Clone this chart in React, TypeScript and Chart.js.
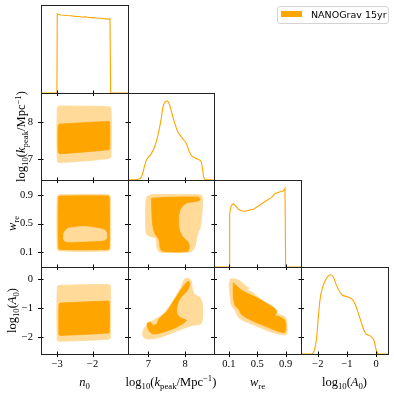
import React, { useEffect, useRef } from "react";
import { Chart, registerables } from "chart.js";

Chart.register(...registerables);

type Pt = [number, number];
type Seg = { t: string; it?: boolean; sub?: boolean; sup?: boolean };

// ---------- data ----------
const SERIES_NAME = "NANOGrav 15yr";

const N0_RANGE: Pt = [-3.46, -1.0];
const KPEAK_RANGE: Pt = [6.44, 8.79];
const WRE_RANGE: Pt = [-0.11, 1.116];
const A0_RANGE: Pt = [-2.58, 0.41];

const N0_TICKS = [-3, -2];
const KPEAK_TICKS = [7, 8];
const WRE_TICKS = [0.1, 0.5, 0.9];
const A0_TICKS = [-2, -1, 0];

const N0_TICK_LABELS = ["−3", "−2"];
const KPEAK_TICK_LABELS = ["7", "8"];
const WRE_TICK_LABELS = ["0.1", "0.5", "0.9"];
const A0_TICK_LABELS = ["−2", "−1", "0"];

// 1D marginal densities (normalised to peak ~1)
const N0_DENS_X = [-3.46, -3.01, -3.0, -2.97, -2.9, -2.8, -2.7, -2.6, -2.5, -2.4, -2.3, -2.2, -2.1, -2.0, -1.9, -1.8, -1.7, -1.6, -1.53, -1.51, -1.49, -1.0];
const N0_DENS_Y = [0, 0, 0.99, 0.985, 0.975, 0.972, 0.968, 0.965, 0.958, 0.956, 0.95, 0.952, 0.944, 0.942, 0.938, 0.935, 0.93, 0.926, 0.922, 0.935, 0, 0];

const KPEAK_DENS_X = [6.44, 6.72, 6.81, 6.9, 6.945, 7.08, 7.17, 7.26, 7.35, 7.41, 7.49, 7.56, 7.665, 7.8, 7.93, 8.03, 8.115, 8.205, 8.34, 8.43, 8.475, 8.54, 8.79];
const KPEAK_DENS_Y = [0, 0.01, 0.04, 0.19, 0.253, 0.337, 0.42, 0.57, 0.78, 0.948, 1.0, 0.97, 0.8, 0.61, 0.527, 0.464, 0.358, 0.295, 0.266, 0.24, 0.148, 0.01, 0];

const WRE_DENS_X = [-0.11, 0.104, 0.108, 0.113, 0.12, 0.135, 0.162, 0.2, 0.233, 0.28, 0.35, 0.397, 0.444, 0.49, 0.56, 0.633, 0.703, 0.75, 0.82, 0.867, 0.89, 0.9, 1.116];
const WRE_DENS_Y = [0, 0, 0.45, 0.66, 0.73, 0.78, 0.8, 0.77, 0.73, 0.708, 0.708, 0.72, 0.73, 0.755, 0.8, 0.84, 0.88, 0.93, 0.952, 0.96, 0.995, 0, 0];

const A0_DENS_X = [-2.58, -2.2, -2.087, -2.03, -1.973, -1.89, -1.74, -1.594, -1.48, -1.34, -1.167, -0.994, -0.82, -0.708, -0.535, -0.36, -0.166, -0.076, 0.006, 0.095, 0.41];
const A0_DENS_Y = [0, 0, 0.1, 0.26, 0.51, 0.77, 0.936, 1.0, 0.98, 0.85, 0.746, 0.725, 0.69, 0.62, 0.43, 0.26, 0.22, 0.177, 0.05, 0, 0];

// 2D credible regions (outer = 95%, inner = 68%)
const N0_KPEAK_95: Pt[] = [[-2.95, 8.44], [-1.53, 8.42], [-1.48, 8.37], [-1.48, 7.08], [-1.53, 7.02], [-2.95, 6.91], [-3.0, 6.96], [-3.0, 8.39]];
const N0_KPEAK_68: Pt[] = [[-2.93, 7.95], [-1.55, 8.02], [-1.52, 7.99], [-1.52, 7.29], [-1.55, 7.26], [-2.93, 7.15], [-2.97, 7.18], [-2.98, 7.55], [-2.97, 7.92]];

const N0_WRE_95: Pt[] = [[-2.95, 0.91], [-1.55, 0.91], [-1.5, 0.88], [-1.5, 0.15], [-1.55, 0.117], [-2.95, 0.117], [-3.0, 0.15], [-3.0, 0.88]];
const N0_WRE_68: Pt[] = [[-2.94, 0.89], [-1.56, 0.89], [-1.53, 0.87], [-1.53, 0.16], [-1.56, 0.137], [-2.94, 0.137], [-2.97, 0.16], [-2.97, 0.87]];
const N0_WRE_HOLE: Pt[] = [[-2.83, 0.3], [-2.81, 0.37], [-2.72, 0.43], [-2.5, 0.45], [-2.2, 0.46], [-1.9, 0.44], [-1.66, 0.41], [-1.6, 0.36], [-1.61, 0.29], [-1.7, 0.265], [-1.9, 0.26], [-2.3, 0.25], [-2.7, 0.245], [-2.8, 0.26]];

const N0_A0_95: Pt[] = [[-2.95, -0.22], [-1.55, -0.19], [-1.5, -0.24], [-1.5, -2.02], [-1.55, -2.07], [-2.95, -2.14], [-3.0, -2.09], [-3.0, -0.27]];
const N0_A0_68: Pt[] = [[-2.92, -0.83], [-1.56, -0.76], [-1.53, -0.79], [-1.53, -1.83], [-1.56, -1.86], [-2.92, -1.94], [-2.95, -1.91], [-2.95, -0.86]];

const KPEAK_WRE_95: Pt[] = [[6.96, 0.88], [7.08, 0.909], [7.76, 0.909], [8.43, 0.905], [8.475, 0.858], [8.46, 0.646], [8.42, 0.458], [8.37, 0.388], [8.33, 0.317], [8.25, 0.153], [8.13, 0.101], [7.66, 0.097], [7.305, 0.1], [7.24, 0.153], [7.2, 0.294], [7.08, 0.317], [6.945, 0.355], [6.92, 0.646], [6.93, 0.834]];
const KPEAK_WRE_68: Pt[] = [[7.08, 0.858], [7.49, 0.872], [8.37, 0.872], [8.405, 0.834], [8.25, 0.81], [8.07, 0.796], [7.93, 0.75], [7.845, 0.67], [7.82, 0.553], [7.845, 0.41], [7.93, 0.317], [8.07, 0.246], [8.115, 0.176], [8.07, 0.111], [7.395, 0.111], [7.32, 0.153], [7.29, 0.27], [7.17, 0.365], [7.11, 0.505], [7.09, 0.693]];

const KPEAK_A0_95: Pt[] = [[8.07, 0.031], [8.16, -0.048], [8.19, -0.28], [8.25, -0.51], [8.39, -0.62], [8.43, -0.68], [8.475, -0.91], [8.475, -1.37], [8.43, -1.54], [8.2, -1.6], [7.93, -1.71], [7.575, -1.89], [7.215, -2.04], [6.945, -2.06], [6.855, -1.98], [6.855, -1.77], [6.945, -1.6], [7.125, -1.43], [7.35, -1.255], [7.53, -1.02], [7.71, -0.68], [7.89, -0.28], [7.98, -0.014]];
const KPEAK_A0_68: Pt[] = [[8.1, -0.083], [8.13, -0.2], [8.03, -0.45], [7.89, -0.62], [7.8, -0.85], [7.77, -1.14], [7.845, -1.31], [8.03, -1.43], [7.76, -1.66], [7.395, -1.83], [7.125, -1.89], [7.015, -1.77], [6.96, -1.54], [7.05, -1.48], [7.125, -1.6], [7.23, -1.54], [7.29, -1.37], [7.49, -1.14], [7.665, -0.8], [7.845, -0.45], [8.03, -0.13]];

const WRE_A0_95: Pt[] = [[0.13, 0.01], [0.21, -0.014], [0.303, -0.163], [0.351, -0.278], [0.383, -0.3], [0.365, -0.393], [0.421, -0.45], [0.655, -0.91], [0.796, -1.2], [0.89, -1.31], [0.915, -1.43], [0.915, -1.89], [0.867, -1.92], [0.703, -1.83], [0.468, -1.6], [0.303, -1.43], [0.233, -1.31], [0.186, -1.08], [0.139, -0.91], [0.115, -0.565], [0.106, -0.107]];
const WRE_A0_68: Pt[] = [[0.162, -0.13], [0.21, -0.245], [0.28, -0.39], [0.42, -0.565], [0.609, -0.8], [0.75, -1.02], [0.774, -1.14], [0.75, -1.255], [0.82, -1.31], [0.89, -1.43], [0.89, -1.83], [0.796, -1.8], [0.609, -1.62], [0.468, -1.48], [0.327, -1.31], [0.27, -1.2], [0.233, -1.02], [0.186, -0.91], [0.162, -0.565]];

// ---------- layout / style ----------
const W = 394;
const H = 394;
const XE = [41, 128, 214, 301, 388];
const YE = [5, 93, 180, 267, 354];
const Y_TITLE_X = [0, 21.5, 12.5, 12];
const X_TITLE_Y = 382;
const TITLE_SIZE = 12.5;
const DARK = "#FFA500";
const LIGHT = "#FFDA99";
const SERIF = "'Liberation Serif', 'Times New Roman', serif";

const RANGES = [N0_RANGE, KPEAK_RANGE, WRE_RANGE, A0_RANGE];
const TICKS = [N0_TICKS, KPEAK_TICKS, WRE_TICKS, A0_TICKS];
const TICK_LABELS = [N0_TICK_LABELS, KPEAK_TICK_LABELS, WRE_TICK_LABELS, A0_TICK_LABELS];
const DENS: [number[], number[], boolean][] = [
  [N0_DENS_X, N0_DENS_Y, false],
  [KPEAK_DENS_X, KPEAK_DENS_Y, true],
  [WRE_DENS_X, WRE_DENS_Y, false],
  [A0_DENS_X, A0_DENS_Y, true],
];
const REGIONS: Record<string, { r95: Pt[]; r68: Pt[]; holes: Pt[][] }> = {
  "1-0": { r95: N0_KPEAK_95, r68: N0_KPEAK_68, holes: [] },
  "2-0": { r95: N0_WRE_95, r68: N0_WRE_68, holes: [N0_WRE_HOLE] },
  "3-0": { r95: N0_A0_95, r68: N0_A0_68, holes: [] },
  "2-1": { r95: KPEAK_WRE_95, r68: KPEAK_WRE_68, holes: [] },
  "3-1": { r95: KPEAK_A0_95, r68: KPEAK_A0_68, holes: [] },
  "3-2": { r95: WRE_A0_95, r68: WRE_A0_68, holes: [] },
};

const LABEL_N0: Seg[] = [{ t: "n", it: true }, { t: "0", sub: true }];
const LABEL_K: Seg[] = [{ t: "log" }, { t: "10", sub: true }, { t: "(" }, { t: "k", it: true }, { t: "peak", sub: true }, { t: "/Mpc" }, { t: "−1", sup: true }, { t: ")" }];
const LABEL_W: Seg[] = [{ t: "w", it: true }, { t: "re", sub: true }];
const LABEL_A: Seg[] = [{ t: "log" }, { t: "10", sub: true }, { t: "(" }, { t: "A", it: true }, { t: "0", sub: true }, { t: ")" }];
const TITLES = [LABEL_N0, LABEL_K, LABEL_W, LABEL_A];

function drawMath(ctx: CanvasRenderingContext2D, segs: Seg[], cx: number, cy: number, rot: number, size: number) {
  const fontFor = (s: Seg) => `${s.it ? "italic " : ""}${s.sub || s.sup ? size * 0.7 : size}px ${SERIF}`;
  const widths = segs.map((s) => {
    ctx.font = fontFor(s);
    return ctx.measureText(s.t).width;
  });
  const total = widths.reduce((a, b) => a + b, 0);
  ctx.save();
  ctx.translate(cx, cy);
  ctx.rotate(rot);
  ctx.fillStyle = "#000";
  ctx.textAlign = "left";
  ctx.textBaseline = "alphabetic";
  let x = -total / 2;
  segs.forEach((s, i) => {
    ctx.font = fontFor(s);
    const dy = s.sub ? size * 0.25 : s.sup ? -size * 0.38 : 0;
    ctx.fillText(s.t, x, size * 0.3 + dy);
    x += widths[i];
  });
  ctx.restore();
}

function regionDataset(pts: Pt[], color: string, order: number) {
  return {
    data: [...pts, pts[0]].map(([x, y]) => ({ x, y })),
    fill: "shape",
    backgroundColor: color,
    borderColor: color,
    borderWidth: 0.8,
    pointRadius: 0,
    tension: 0.3,
    order,
  };
}

function makeConfig(r: number, c: number): any {
  const diag = r === c;
  const xr = RANGES[c];
  const yr = diag ? [0, 1.1] : RANGES[r];
  let datasets: any[];
  if (diag) {
    const [xs, ys, smooth] = DENS[c];
    datasets = [
      {
        data: xs.map((x, i) => ({ x, y: ys[i] })),
        borderColor: DARK,
        borderWidth: 1.1,
        pointRadius: 0,
        fill: false,
        tension: smooth ? 0.35 : 0,
      },
    ];
  } else {
    const reg = REGIONS[`${r}-${c}`];
    datasets = [
      regionDataset(reg.r95, LIGHT, 10),
      regionDataset(reg.r68, DARK, 5),
      ...reg.holes.map((h) => regionDataset(h, LIGHT, 1)),
    ];
  }
  const tickFont = { family: SERIF, size: 10.5 };
  const framePlugin = {
    id: `frame${r}${c}`,
    afterDraw(chart: any) {
      const { ctx, chartArea: a, scales } = chart;
      const xs = scales.x;
      const ys = scales.y;
      ctx.save();
      ctx.strokeStyle = "#000";
      ctx.lineWidth = 1;
      ctx.beginPath();
      for (const v of TICKS[c]) {
        const px = Math.round(xs.getPixelForValue(v)) + 0.5;
        ctx.moveTo(px, a.bottom - 2.5);
        ctx.lineTo(px, a.bottom + 3);
      }
      if (!diag) {
        for (const v of TICKS[r]) {
          const py = Math.round(ys.getPixelForValue(v)) + 0.5;
          ctx.moveTo(a.left - 3, py);
          ctx.lineTo(a.left + 2.5, py);
          ctx.moveTo(a.right - 2.5, py);
          ctx.lineTo(a.right + 3, py);
        }
      }
      ctx.stroke();
      ctx.strokeStyle = "#222";
      ctx.strokeRect(a.left + 0.5, a.top + 0.5, a.right - a.left, a.bottom - a.top);
      if (r === 3) drawMath(ctx, TITLES[c], (a.left + a.right) / 2, X_TITLE_Y, 0, TITLE_SIZE);
      if (c === 0 && r > 0) drawMath(ctx, TITLES[r], Y_TITLE_X[r], (a.top + a.bottom) / 2, -Math.PI / 2, TITLE_SIZE);
      ctx.restore();
    },
  };
  const xAxisBand = H - YE[r + 1];
  const yAxisBand = XE[c];
  return {
    type: "line",
    data: { datasets },
    options: {
      animation: false,
      responsive: false,
      events: [],
      layout: { padding: { left: 0, right: W - XE[c + 1], top: YE[r], bottom: 0 } },
      scales: {
        x: {
          type: "linear",
          position: "bottom",
          min: xr[0],
          max: xr[1],
          afterFit: (s: any) => {
            s.height = xAxisBand;
          },
          afterBuildTicks: (s: any) => {
            s.ticks = TICKS[c].map((v) => ({ value: v }));
          },
          grid: { display: false, drawTicks: false },
          border: { display: false },
          ticks: {
            display: r === 3,
            autoSkip: false,
            maxRotation: 0,
            padding: 4,
            color: "#000",
            font: tickFont,
            callback: (_v: any, i: number) => TICK_LABELS[c][i],
          },
        },
        y: {
          type: "linear",
          position: "left",
          min: yr[0],
          max: yr[1],
          afterFit: (s: any) => {
            s.width = yAxisBand;
          },
          afterBuildTicks: (s: any) => {
            s.ticks = diag ? [] : TICKS[r].map((v) => ({ value: v }));
          },
          grid: { display: false, drawTicks: false },
          border: { display: false },
          ticks: {
            display: c === 0 && !diag,
            autoSkip: false,
            padding: 8,
            color: "#000",
            font: tickFont,
            callback: (_v: any, i: number) => (diag ? "" : TICK_LABELS[r][i]),
          },
        },
      },
      plugins: { legend: { display: false }, tooltip: { enabled: false } },
    },
    plugins: [framePlugin],
  };
}

function Panel({ r, c }: { r: number; c: number }) {
  const ref = useRef<HTMLCanvasElement>(null);
  useEffect(() => {
    const chart = new Chart(ref.current as HTMLCanvasElement, makeConfig(r, c));
    return () => chart.destroy();
  }, [r, c]);
  return <canvas ref={ref} width={W} height={H} style={{ position: "absolute", left: 0, top: 0, width: W, height: H }} />;
}

export default function App() {
  const panels: { r: number; c: number }[] = [];
  for (let r = 0; r < 4; r++) for (let c = 0; c <= r; c++) panels.push({ r, c });
  return (
    <div style={{ position: "absolute", left: 0, top: 0, width: W, height: H, background: "#fff", overflow: "hidden" }}>
      {panels.map((p) => (
        <Panel key={`${p.r}-${p.c}`} r={p.r} c={p.c} />
      ))}
      <div
        style={{
          position: "absolute",
          left: 277,
          top: 6,
          width: 110,
          height: 16,
          border: "1px solid #d4d4d4",
          borderRadius: 3,
          background: "#fff",
          fontFamily: "'DejaVu Sans', sans-serif",
          fontSize: 9.5,
          color: "#000",
        }}
      >
        <span style={{ position: "absolute", left: 3, top: 4, width: 21, height: 6, background: DARK }} />
        <span style={{ position: "absolute", left: 33, top: 0, lineHeight: "16px", whiteSpace: "nowrap" }}>{SERIES_NAME}</span>
      </div>
    </div>
  );
}
